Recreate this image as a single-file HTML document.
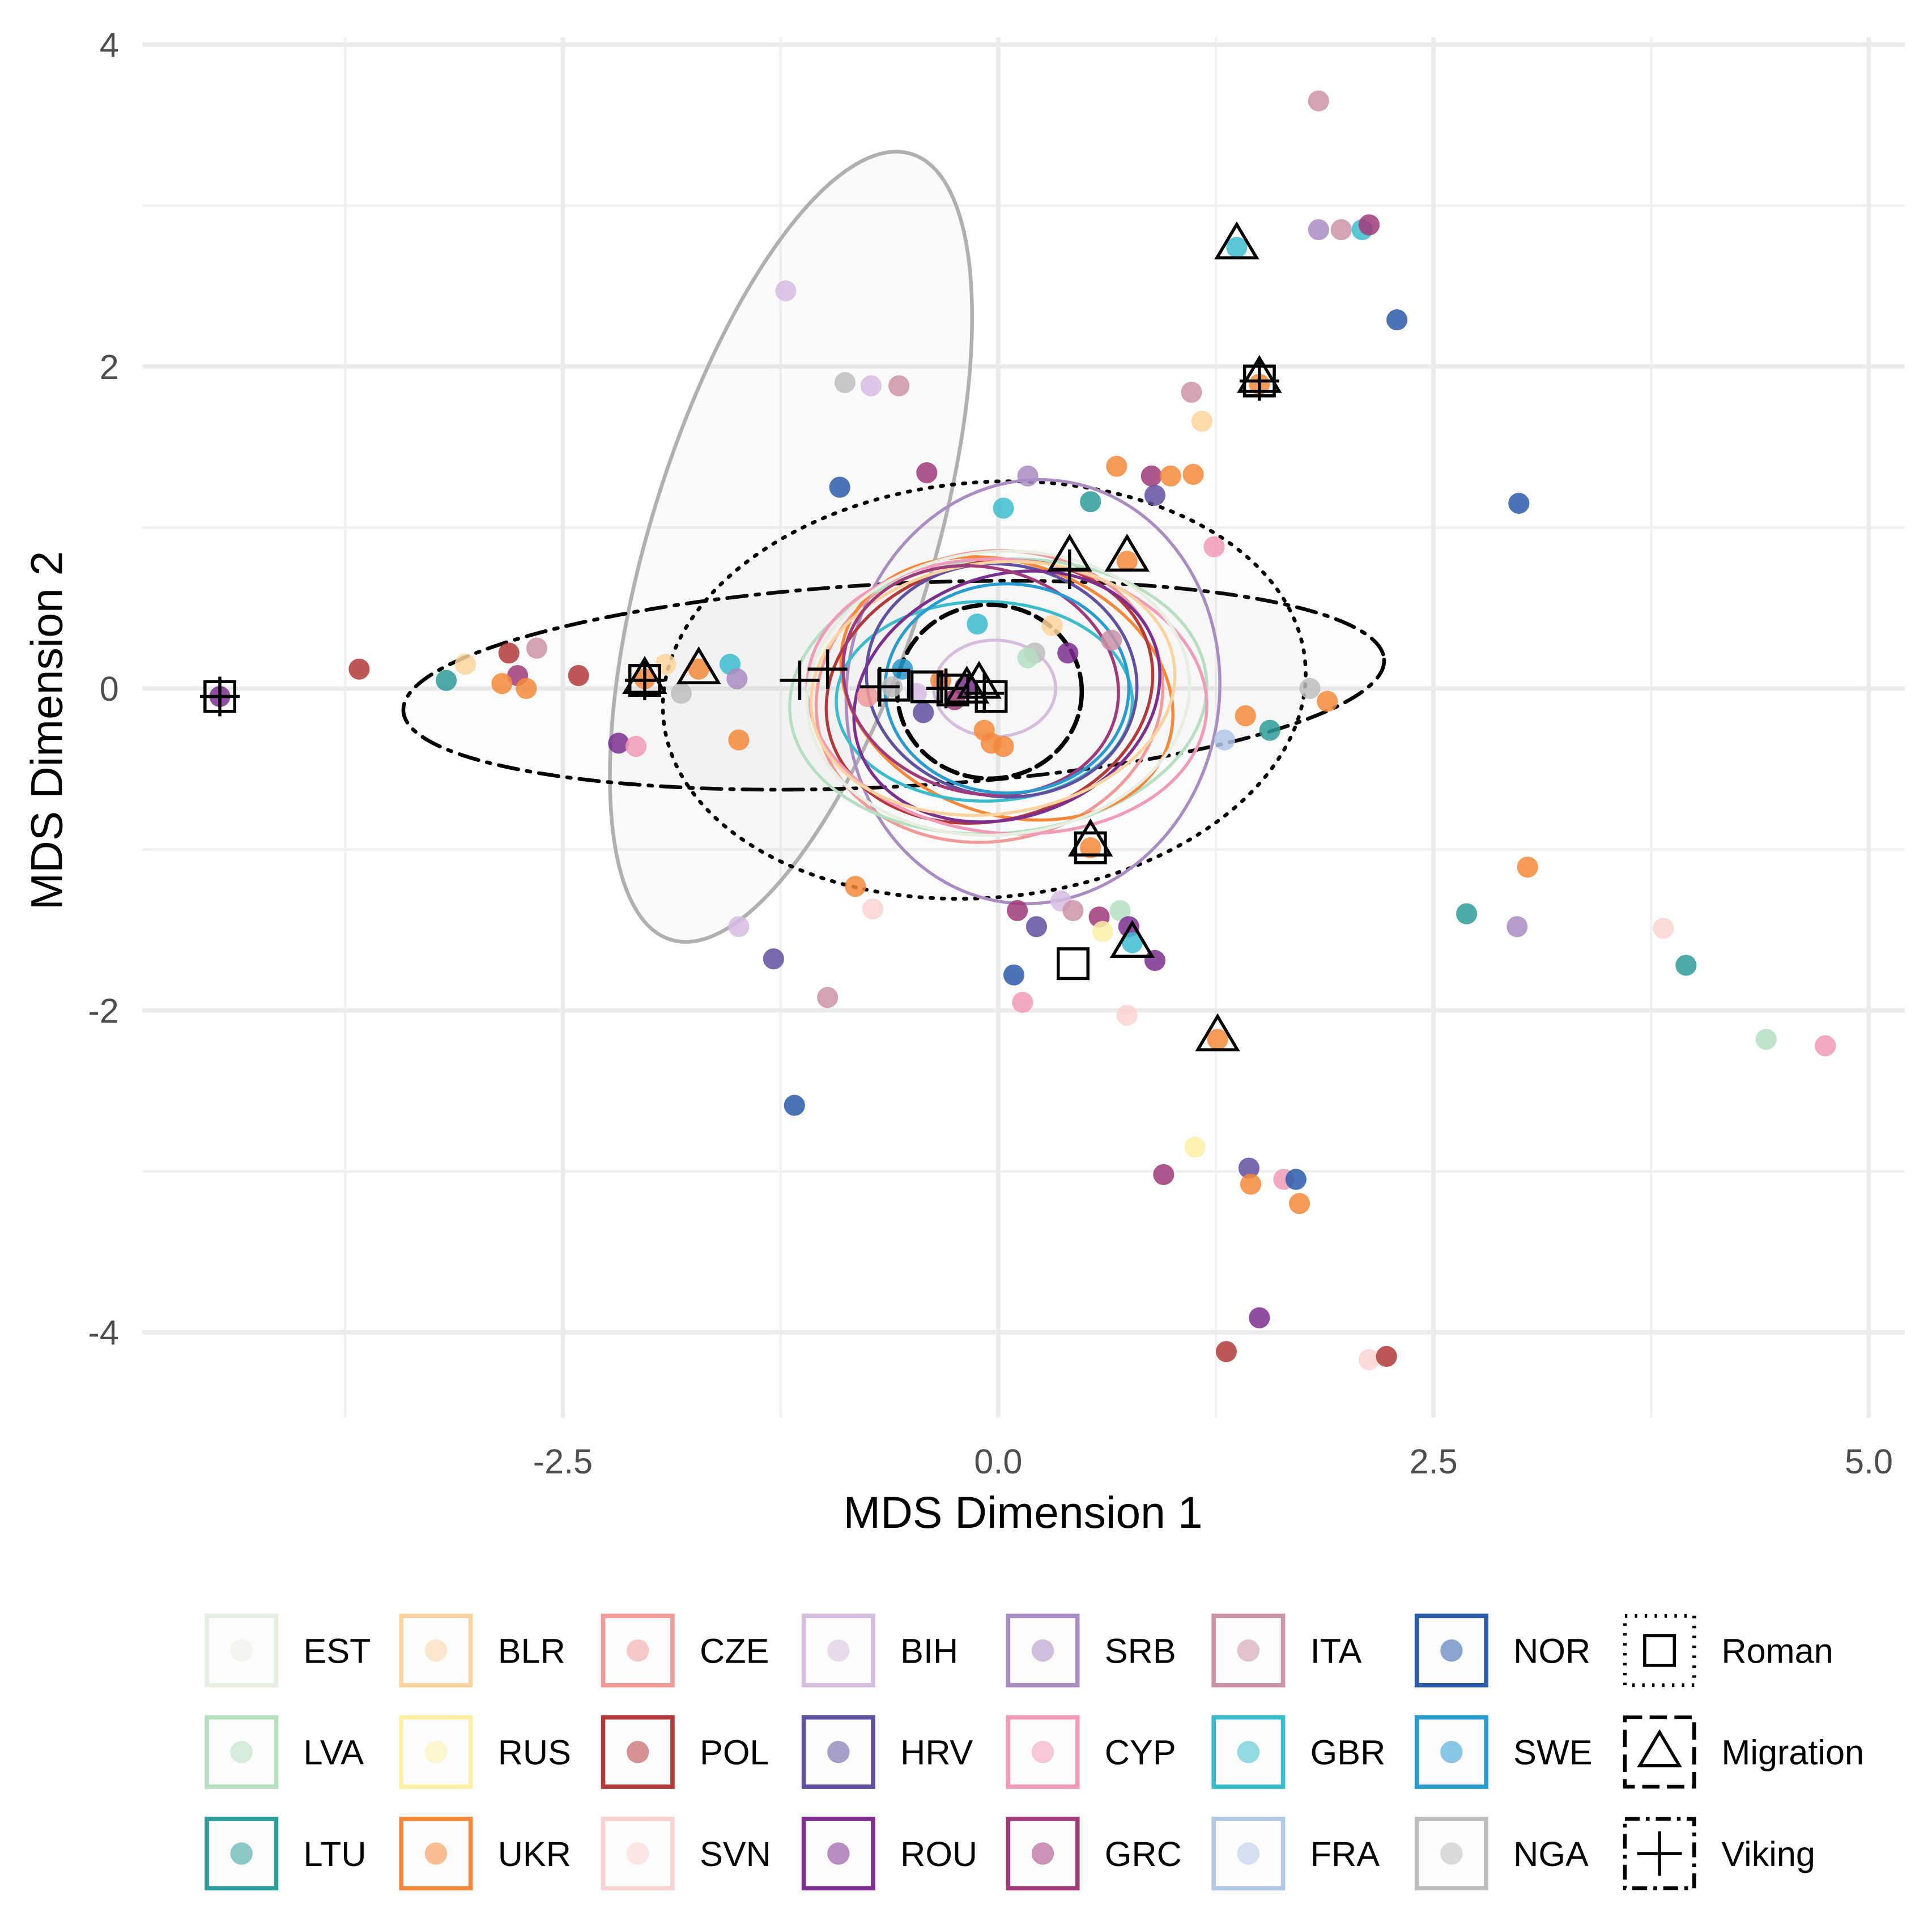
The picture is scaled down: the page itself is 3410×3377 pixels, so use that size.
<!DOCTYPE html>
<html><head><meta charset="utf-8"><style>
html,body{margin:0;padding:0;background:#fff}
svg{display:block}
text{font-family:"Liberation Sans",sans-serif}
</style></head><body>
<svg id="chart" xmlns="http://www.w3.org/2000/svg" width="3410" height="3377" viewBox="0 0 1560 1545" preserveAspectRatio="none">
<g id="grid"></g>
<g id="axes"></g>
<g id="ellipses"></g>
<g id="points"></g>
<g id="shapes"></g>
<g id="legend"></g>
</svg>
<script>
const xTicks = [-2.5, 0.0, 2.5, 5.0];
const xTickLabels = ["-2.5", "0.0", "2.5", "5.0"];
const xMinor = [-3.75, -1.25, 1.25, 3.75];
const yTicks = [4, 2, 0, -2, -4];
const yTickLabels = ["4", "2", "0", "-2", "-4"];
const yMinor = [3, 1, -1, -3];
const groups = ["EST","LVA","LTU","BLR","RUS","UKR","CZE","POL","SVN","BIH","HRV","ROU","SRB","CYP","GRC","ITA","GBR","FRA","NOR","SWE","NGA"];
const groupColors = {EST:"#e9eee2",LVA:"#b5dfc0",LTU:"#2e9c98",BLR:"#fbd39e",RUS:"#fdf0a6",UKR:"#f5883a",CZE:"#f29a9a",POL:"#b23a3a",SVN:"#f9d2d2",BIH:"#d5bde0",HRV:"#6150a0",ROU:"#7d2f90",SRB:"#a98cc2",CYP:"#f29ab9",GRC:"#a03a78",ITA:"#cc92a8",GBR:"#3bbccc",FRA:"#b2c6e6",NOR:"#2a5ca8",SWE:"#2a9bd0",NGA:"#bdbdbd"};
// points: x, y, group
const ptX = [1.84,1.84,1.97,2.09,2.13,1.37,2.29,-1.22,-0.88,-0.73,-0.57,1.11,1.50,1.17,-0.91,-0.41,0.17,0.68,0.88,0.99,1.12,0.03,0.53,0.90,2.99,1.24,0.74,-3.67,-3.17,-3.06,-2.81,-2.65,-2.76,-2.71,-2.85,-2.41,-2.18,-2.08,-1.54,-1.50,-1.49,-1.91,-1.82,-1.72,-2.03,1.42,1.79,1.89,1.30,1.56,-0.82,-0.72,-1.49,-1.29,-0.98,-1.17,0.09,0.14,0.11,0.22,0.36,0.43,0.53,0.58,0.60,0.70,0.75,0.77,0.90,0.74,1.26,2.69,2.98,3.04,3.82,3.95,4.41,4.75,1.13,0.95,1.44,1.45,1.64,1.71,1.73,1.50,1.31,2.13,2.23,-4.47,-0.47,-0.33,-0.19,-0.04,-0.08,0.03,0.21,0.40,-0.43,-0.25,-0.61,0.17,0.31,-0.75,0.65,-0.55,-0.12];
const ptY = [3.65,2.85,2.85,2.85,2.88,2.74,2.29,2.47,1.90,1.88,1.88,1.84,1.89,1.66,1.25,1.34,1.32,1.38,1.32,1.32,1.33,1.12,1.16,1.20,1.15,0.88,0.79,0.12,0.05,0.15,0.22,0.25,0.08,0.00,0.03,0.08,-0.34,-0.36,0.15,0.06,-0.32,0.15,-0.03,0.12,0.06,-0.17,0.00,-0.08,-0.32,-0.26,-1.23,-1.37,-1.48,-1.68,-1.92,-2.59,-1.78,-1.95,-1.38,-1.48,-1.32,-1.38,-0.99,-1.42,-1.51,-1.38,-1.48,-1.58,-1.69,-2.03,-2.18,-1.40,-1.48,-1.11,-1.49,-1.72,-2.18,-2.22,-2.85,-3.02,-2.98,-3.08,-3.05,-3.05,-3.20,-3.91,-4.12,-4.17,-4.15,-0.05,-0.03,0.05,0.01,-0.34,-0.26,-0.36,0.22,0.22,-0.15,-0.07,0.01,0.19,0.39,-0.05,0.30,0.12,0.40];
const ptG = ["ITA","SRB","ITA","GBR","GRC","GBR","NOR","BIH","NGA","BIH","ITA","ITA","UKR","BLR","NOR","GRC","SRB","UKR","GRC","UKR","UKR","GBR","LTU","HRV","NOR","CYP","UKR","POL","LTU","BLR","POL","ITA","GRC","UKR","UKR","POL","ROU","CYP","GBR","SRB","UKR","BLR","NGA","UKR","UKR","UKR","NGA","UKR","FRA","LTU","UKR","SVN","BIH","HRV","ITA","NOR","NOR","CYP","GRC","HRV","BIH","ITA","UKR","GRC","RUS","LVA","ROU","GBR","ROU","SVN","UKR","LTU","SRB","UKR","SVN","LTU","LVA","CYP","RUS","GRC","HRV","UKR","CYP","NOR","UKR","ROU","POL","SVN","POL","ROU","BIH","UKR","ROU","UKR","UKR","UKR","NGA","ROU","HRV","GRC","NGA","LVA","BLR","CZE","ITA","SWE","GBR"];
// ellipses: centre x,y (data), semi axes (data-x units, data-y units), rotation deg, colour, dash
const elX = [-1.19,-0.60,-0.08,0.20,-0.05,0.0,0.05,-0.05,0.05,-0.08,0.02,0.05,-0.03,0.0,-0.1,0.05,-0.05,-0.02];
const elY = [0.88,0.02,-0.01,-0.02,-0.05,-0.05,0.0,-0.02,-0.05,-0.08,0.05,-0.05,0.0,-0.03,0.05,0.0,-0.02,0.0];
const elA = [2.36,2.82,1.85,1.07,1.00,1.20,0.98,0.95,1.15,0.85,0.78,0.90,1.05,1.10,0.80,0.70,0.53,0.35];
const elB = [0.88,0.63,1.29,1.32,0.90,0.85,0.78,0.80,0.85,0.62,0.72,0.75,0.78,0.88,0.70,0.65,0.54,0.30];
const elR = [-73,-3,-5,8,-10,-5,20,-15,5,0,10,-20,-8,-5,15,0,0,0];
const elG = ["NGA","Viking","Roman","SRB","CZE","LVA","UKR","POL","CYP","GBR","HRV","ROU","BLR","EST","GRC","SWE","Migration","BIH"];
// period markers
const sqX = [-4.47,-2.03,-0.26,-0.04,1.50,0.53,0.43,-0.41,-0.6];
const sqY = [-0.05,0.05,-0.01,-0.05,1.91,-0.99,-1.71,0.01,0.02];
const triX = [1.37,1.50,0.74,-1.72,-2.03,0.53,0.77,1.26,-0.11,-0.18,0.41];
const triY = [2.76,1.93,0.82,0.12,0.06,-0.95,-1.58,-2.16,0.03,0.0,0.82];
const plX = [-4.47,-2.03,-1.14,-0.98,0.41,1.50,-0.08,-0.68,-0.3];
const plY = [-0.05,0.05,0.05,0.12,0.74,1.91,-0.03,0.01,0.0];

const NS="http://www.w3.org/2000/svg";
const X0=806, XS=140.6, Y0=556, YS=130;
const sx=v=>X0+v*XS, sy=v=>Y0-v*YS;
const PL=115, PR=1538, PT=30, PB=1145;
function mk(tag,attrs,parent){const e=document.createElementNS(NS,tag);for(const k in attrs)e.setAttribute(k,attrs[k]);parent.appendChild(e);return e;}
const grid=document.getElementById('grid');
xMinor.forEach(v=>{const l=mk('line',{x1:sx(v),x2:sx(v),y1:PT,y2:PB,stroke:'#f0f0f0','stroke-width':2},grid);

});
yMinor.forEach(v=>{const l=mk('line',{x1:PL,x2:PR,y1:sy(v),y2:sy(v),stroke:'#f0f0f0','stroke-width':2},grid);

});
xTicks.forEach(v=>{const l=mk('line',{x1:sx(v),x2:sx(v),y1:PT,y2:PB,stroke:'#ebebeb','stroke-width':3.5},grid);

});
yTicks.forEach(v=>{const l=mk('line',{x1:PL,x2:PR,y1:sy(v),y2:sy(v),stroke:'#ebebeb','stroke-width':3.5},grid);

});
const axes=document.getElementById('axes');
xTicks.forEach((v,i)=>{const t=mk('text',{x:sx(v),y:1190,'font-size':28,fill:'#4d4d4d','text-anchor':'middle'},axes);t.textContent=xTickLabels[i];

});
yTicks.forEach((v,i)=>{const t=mk('text',{x:96,y:sy(v)+10,'font-size':28,fill:'#4d4d4d','text-anchor':'end'},axes);t.textContent=yTickLabels[i];

});
let t=mk('text',{x:826,y:1234,'font-size':36,fill:'#000','text-anchor':'middle'},axes);t.textContent='MDS Dimension 1';


t=mk('text',{x:0,y:0,'font-size':36,fill:'#000','text-anchor':'middle',transform:'translate(50,590) rotate(-90)'},axes);t.textContent='MDS Dimension 2';



const eg=document.getElementById('ellipses');
elX.forEach((v,i)=>{const g=elG[i];let stroke=groupColors[g]||'#000',dash='',fill='none',fo=0,sw=2.5;
 if(g==='NGA'){stroke='#b0b0b0';fill='#bdbdbd';fo=0.08;sw=3;}
 if(g==='Roman'){stroke='#000';dash='2 7';fill='#bdbdbd';fo=0.06;sw=3;}
 if(g==='Viking'){stroke='#000';dash='16 7 3 7';fill='#bdbdbd';fo=0.06;sw=3;}
 if(g==='Migration'){stroke='#000';dash='14 6';sw=3.5;}
 const e=mk('ellipse',{cx:0,cy:0,rx:elA[i]*XS,ry:elB[i]*YS,transform:`translate(${sx(v)},${sy(elY[i])}) rotate(${elR[i]})`,fill:fill,'fill-opacity':fo,stroke:stroke,'stroke-width':sw,'stroke-dasharray':dash,'stroke-linecap':'round'},eg);
 
 });

const pg=document.getElementById('points');
ptX.forEach((v,i)=>{const c=mk('circle',{cx:sx(v),cy:sy(ptY[i]),r:8.5,fill:groupColors[ptG[i]],'fill-opacity':0.85},pg);
 
 });

const sg=document.getElementById('shapes');
sqX.forEach((v,i)=>{const r=mk('rect',{x:sx(v)-12,y:sy(sqY[i])-12,width:24,height:24,fill:'none',stroke:'#000','stroke-width':2.5},sg);
 
 });
triX.forEach((v,i)=>{const x=sx(v),y=sy(triY[i]);const p=mk('polygon',{points:`${x},${y-16} ${x-16},${y+11} ${x+16},${y+11}`,fill:'none',stroke:'#000','stroke-width':2.5},sg);
 
 });
plX.forEach((v,i)=>{const x=sx(v),y=sy(plY[i]);const p=mk('path',{d:`M${x-16},${y}H${x+16}M${x},${y-16}V${y+16}`,stroke:'#000','stroke-width':2.5},sg);
 
 });

const lg=document.getElementById('legend');
const legCols=[["EST","LVA","LTU"],["BLR","RUS","UKR"],["CZE","POL","SVN"],["BIH","HRV","ROU"],["SRB","CYP","GRC"],["ITA","GBR","FRA"],["NOR","SWE","NGA"]];
const colX=[195,352,515,677,842,1008,1172];
const rowY=[1333,1415,1497];
legCols.forEach((col,ci)=>col.forEach((g,ri)=>{const cx=colX[ci],cy=rowY[ri];
 const gg=mk('g',{},lg);
 
 
 mk('rect',{x:cx-28,y:cy-28,width:56,height:56,fill:'#fcfcfc',stroke:groupColors[g],'stroke-width':3.5},gg);
 mk('circle',{cx:cx,cy:cy,r:9,fill:groupColors[g],'fill-opacity':0.55},gg);
 const tx=mk('text',{x:cx+50,y:cy+10,'font-size':28,fill:'#000'},gg);tx.textContent=g;}));
const per=[["Roman","2 6"],["Migration","14 6"],["Viking","12 5 3 5"]];
per.forEach((p,ri)=>{const cx=1340,cy=rowY[ri];
 const gg=mk('g',{},lg);
 
 
 mk('rect',{x:cx-28,y:cy-28,width:56,height:56,fill:'#fff',stroke:'#000','stroke-width':3,'stroke-dasharray':p[1]},gg);
 if(ri===0)mk('rect',{x:cx-12,y:cy-12,width:24,height:24,fill:'none',stroke:'#000','stroke-width':2.5},gg);
 if(ri===1)mk('polygon',{points:`${cx},${cy-16} ${cx-16},${cy+11} ${cx+16},${cy+11}`,fill:'none',stroke:'#000','stroke-width':2.5},gg);
 if(ri===2)mk('path',{d:`M${cx-18},${cy}H${cx+18}M${cx},${cy-18}V${cy+18}`,stroke:'#000','stroke-width':2.5},gg);
 const tx=mk('text',{x:cx+50,y:cy+10,'font-size':28,fill:'#000'},gg);tx.textContent=p[0];});
</script>
</body></html>
